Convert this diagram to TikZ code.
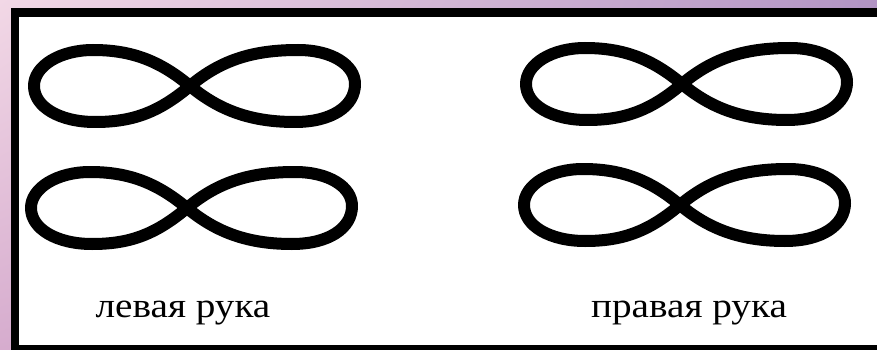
\documentclass[tikz,border=0pt]{standalone}
\usepackage{fontspec}
\setmainfont{Liberation Serif}
\newfontfamily\handfont[FakeStretch=1.12]{Liberation Serif}
\usepackage{xcolor}
\usepackage{tikz}
\usetikzlibrary{positioning, shadings}
\definecolor{bgpink}{RGB}{242,216,230}
\definecolor{bgviolet}{RGB}{178,148,196}
\definecolor{bglilac}{RGB}{214,172,206}
\tikzset{
  loopline/.style={line width=12pt, line join=round},
  handlabel/.style={font=\handfont\fontsize{35}{40}\selectfont, anchor=base, inner sep=0pt},
  eight/.pic={
    \draw[loopline] (0,0) .. controls (32,-27) and (65,-36) .. (108,-36)
      .. controls (142,-36) and (165,-21) .. (165,-2)
      .. controls (165,20) and (142,36) .. (105,36)
      .. controls (62,36) and (30,25) .. (0,0)
      .. controls (-30,-25) and (-58,-36) .. (-97,-36)
      .. controls (-130,-36) and (-156,-20) .. (-156,0)
      .. controls (-156,21) and (-130,36) .. (-95,36)
      .. controls (-58,36) and (-32,27) .. (0,0) -- cycle;
  }
}
\begin{document}
\begin{tikzpicture}[x=1pt, y=-1pt]
\useasboundingbox (0,0) rectangle (877,350);
% backdrop and frame
\shade[upper left=bgpink, upper right=bgviolet, lower left=bglilac, lower right=bgviolet] (0,0) rectangle (877,350);
\fill[black] (11,8) rectangle (877,350);
\fill[white] (19,17) rectangle (877,345);

% figure eights
\foreach \x/\y in {190/86, 187/208, 682/84, 680/205} {
   \pic at (\x,\y) {eight};
}

% captions
\node[handlabel] (lefthand) at (183,317) {левая рука};
\node[handlabel] (righthand) at (689,317) {правая рука};
\end{tikzpicture}
\end{document}
